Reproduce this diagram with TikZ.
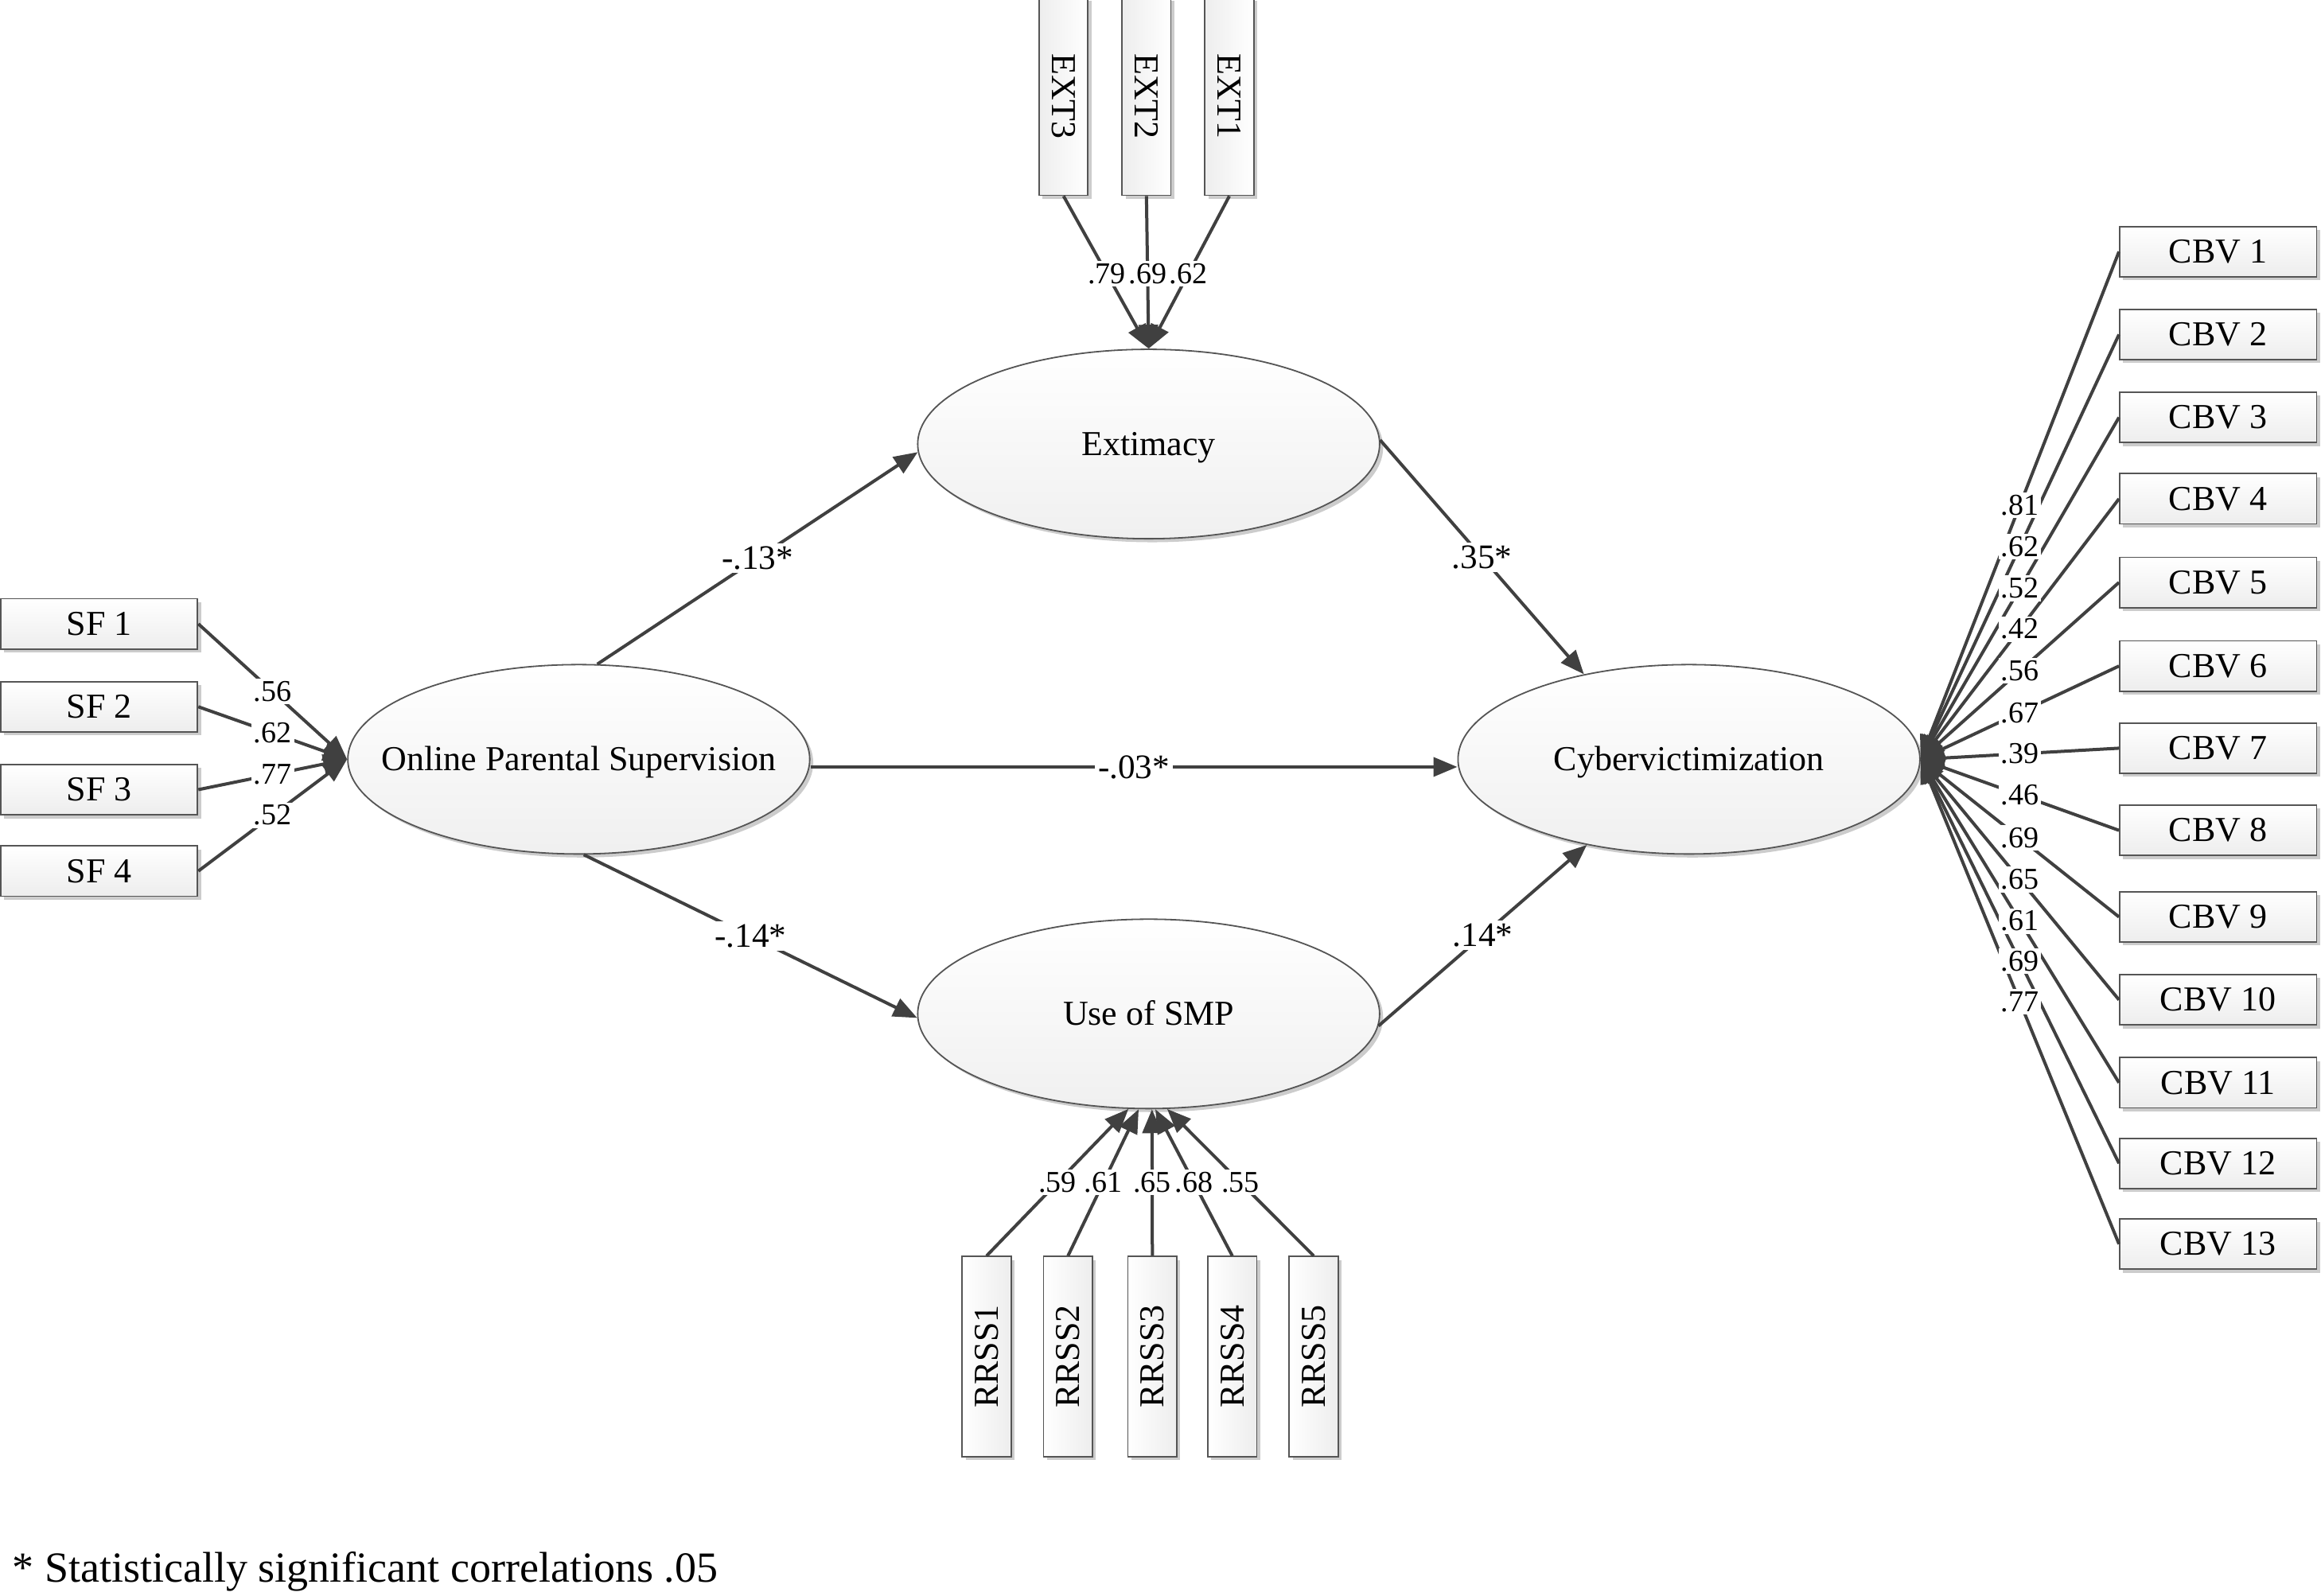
\documentclass[tikz,border=0pt]{standalone}
\usepackage{fontspec}
\setmainfont{Liberation Serif}
\usetikzlibrary{arrows.meta,shapes.geometric,shadows}
\definecolor{linecol}{HTML}{404040}
\definecolor{boxcol}{HTML}{555555}
\newcommand{\lattext}[1]{\raisebox{-3.6pt}[0pt][0pt]{\makebox[0pt]{#1}}}
\begin{document}
\begin{tikzpicture}[x=0.465pt,y=-0.465pt,
  conn/.style={draw=linecol, line width=1pt, -{Triangle[length=7.5pt,width=6pt]}},
  shad/.style={drop shadow={shadow xshift=1.1pt,shadow yshift=-1.1pt,fill=black!20,opacity=1}},
  obs/.style={shad, draw=boxcol, line width=0.45pt, top color=white, bottom color=gray!14,
    minimum width=61.85pt, minimum height=15.8pt, inner sep=0pt, font=\fontsize{11}{13}\selectfont},
  vobsl/.style={shad, draw=boxcol, line width=0.45pt, left color=gray!14, right color=white,
    minimum width=15.35pt, minimum height=62.3pt, inner sep=0pt, font=\fontsize{11}{13}\selectfont},
  vobsr/.style={shad, draw=boxcol, line width=0.45pt, left color=white, right color=gray!14,
    minimum width=15.35pt, minimum height=62.8pt, inner sep=0pt, font=\fontsize{11}{13}\selectfont},
  lat/.style={ellipse, shad, draw=boxcol, line width=0.45pt, top color=white, bottom color=gray!12,
    minimum width=145.1pt, minimum height=59.5pt, inner sep=0pt, font=\fontsize{11}{13}\selectfont},
  plab/.style={fill=white, inner sep=1pt, font=\fontsize{10.8}{12}\selectfont},
  llab/.style={fill=white, inner sep=0.8pt, font=\fontsize{9.5}{10}\selectfont}
]
\useasboundingbox (0,0) rectangle (1568,1077.8);

% latent variables
\node[lat] (ext) at (776,300) {\lattext{Extimacy}};
\node[lat] (ops) at (391,513) {\lattext{Online Parental Supervision}};
\node[lat] (cyb) at (1141,513) {\lattext{Cybervictimization}};
\node[lat] (smp) at (776,685) {\lattext{Use of SMP}};

% SF indicators
\node[obs] (sf1) at (67,421.5) {SF 1};
\node[obs] (sf2) at (67,477.5) {SF 2};
\node[obs] (sf3) at (67,533.5) {SF 3};
\node[obs] (sf4) at (67,588.5) {SF 4};

% EXT indicators
\node[vobsl] (e3) at (718.5,65) {\rotatebox{-90}{EXT3}};
\node[vobsl] (e2) at (774.5,65) {\rotatebox{-90}{EXT2}};
\node[vobsl] (e1) at (830.5,65) {\rotatebox{-90}{EXT1}};

% RRSS indicators
\node[vobsr] (r1) at (666.5,916.5) {\rotatebox{90}{RRSS1}};
\node[vobsr] (r2) at (721.5,916.5) {\rotatebox{90}{RRSS2}};
\node[vobsr] (r3) at (778.5,916.5) {\rotatebox{90}{RRSS3}};
\node[vobsr] (r4) at (832.5,916.5) {\rotatebox{90}{RRSS4}};
\node[vobsr] (r5) at (887.5,916.5) {\rotatebox{90}{RRSS5}};

% CBV indicators
\foreach \i/\y in {1/170,2/226,3/282,4/337,5/393.5,6/450,7/505.5,8/561,9/619.5,10/675.5,11/731.5,12/786,13/840.5}
  \node[obs] (c\i) at (1498.5,\y) {CBV \i};

% connectors
\foreach \i in {1,...,4} \draw[conn] (sf\i.east) -- (ops.west);
\foreach \i in {1,2,3} \draw[conn] (e\i.south) -- (ext.north);
\draw[conn] (r1.north) -- (smp.258);
\draw[conn] (r2.north) -- (smp.264.5);
\draw[conn] (r3.north) -- (smp.272);
\draw[conn] (r4.north) -- (smp.274.5);
\draw[conn] (r5.north) -- (smp.281.7);
\foreach \i in {1,...,13} \draw[conn] (c\i.west) -- (cyb.east);

\draw[conn] (ops.79) -- (ext.182);
\draw[conn] ([yshift=-2.4pt]ops.east) -- ([yshift=-2.4pt]cyb.west);
\draw[conn] (ops.273) -- (smp.181);
\draw[conn] (ext.1) -- (cyb.141);
\draw[conn] (smp.357) -- (cyb.220);

% path labels
\path (ops.79) -- (ext.182) node[pos=.5, plab] {-.13*};
\path ([yshift=-2.4pt]ops.east) -- ([yshift=-2.4pt]cyb.west) node[pos=.5, plab] {-.03*};
\path (ops.273) -- (smp.181) node[pos=.5, plab] {-.14*};
\path (ext.1) -- (cyb.141) node[pos=.5, plab] {.35*};
\path (smp.357) -- (cyb.220) node[pos=.5, plab] {.14*};

% loading labels
\foreach \i/\v in {1/.56,2/.62,3/.77,4/.52}
  \path (sf\i.east) -- (ops.west) node[pos=.5, llab] {\v};
\path (e3.south) -- (ext.north) node[pos=.51, llab] {.79};
\path (e2.south) -- (ext.north) node[pos=.51, llab] {.69};
\path (e1.south) -- (ext.north) node[pos=.51, llab] {.62};
\path (r1.north) -- (smp.258) node[pos=.5, llab] {.59};
\path (r2.north) -- (smp.264.5) node[pos=.5, llab] {.61};
\path (r3.north) -- (smp.272) node[pos=.5, llab] {.65};
\path (r4.north) -- (smp.274.5) node[pos=.5, llab] {.68};
\path (r5.north) -- (smp.281.7) node[pos=.5, llab] {.55};
\foreach \i/\v in {1/.81,2/.62,3/.52,4/.42,5/.56,6/.67,7/.39,8/.46,9/.69,10/.65,11/.61,12/.69,13/.77}
  \path (c\i.west) -- (cyb.east) node[pos=.5, llab] {\v};

% footnote
\node[anchor=west, inner sep=0pt, font=\fontsize{13.5}{16}\selectfont] (note) at (8,1062) {* Statistically significant correlations .05};
\end{tikzpicture}
\end{document}
